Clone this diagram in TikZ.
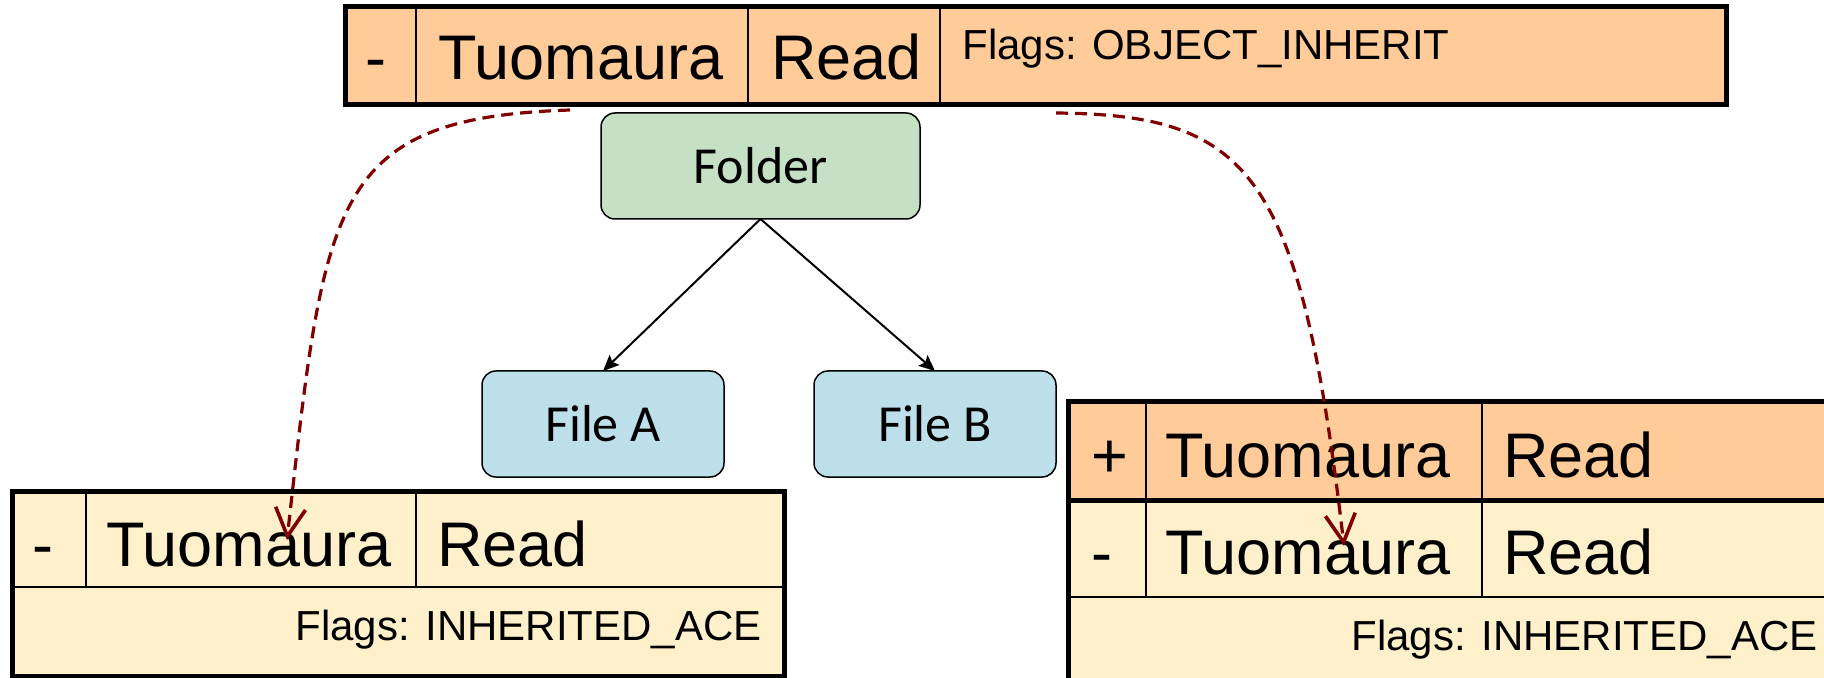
\documentclass[tikz,border=0pt]{standalone}
\usepackage{fontspec}
\setmainfont{Liberation Sans}
\newfontfamily\carlito{Carlito}
\usetikzlibrary{arrows.meta}
\definecolor{aceorange}{HTML}{FFCC99}
\definecolor{aceyellow}{HTML}{FFF0CC}
\definecolor{foldergreen}{HTML}{C5E0C5}
\definecolor{fileblue}{HTML}{BDDFEA}
\definecolor{inhred}{HTML}{800000}
\tikzset{
 cell/.style={draw=black, line width=1pt, inner sep=0pt, outer sep=0pt, anchor=north west},
 big/.style={font=\fontsize{31.5}{31.5}\selectfont, inner sep=0pt, anchor=base west},
 flag/.style={font=\fontsize{21}{21}\selectfont, inner sep=0pt},
 outerline/.style={line width=2.5pt},
 obj/.style={draw=black, line width=0.75pt, rounded corners=7pt, inner sep=0pt, outer sep=0pt,
   font=\carlito\fontsize{26}{26}\selectfont},
 tree/.style={line width=1pt, -{Stealth[length=8pt,width=7pt,inset=1.5pt]}},
 inh/.style={draw=inhred, line width=1.6pt, dash pattern=on 6pt off 3.5pt,
   -{Straight Barb[length=14pt,width=15pt,line width=1.8pt]}}
}
\begin{document}
\begin{tikzpicture}[x=0.5pt,y=-0.5pt]
\useasboundingbox (0,0) rectangle (1824,678);
\clip (0,0) rectangle (1824,678);
% top table
\node[cell, fill=aceorange, minimum width=35.5pt, minimum height=49pt] (t1) at (345,7) {};
\node[cell, fill=aceorange, minimum width=166pt, minimum height=49pt] (t2) at (416,7) {};
\node[cell, fill=aceorange, minimum width=96pt, minimum height=49pt] (t3) at (748,7) {};
\node[cell, fill=aceorange, minimum width=393pt, minimum height=49pt] (t4) at (940,7) {};
\draw[outerline] (t1.north west) rectangle (t4.south east);
\node[big] (t1x) at (365,80) {-};
\node[big] (t2x) at (438,80) {Tuomaura};
\node[big] (t3x) at (771,80) {Read};
\node[flag, anchor=base west] (t4x) at (962,60) {Flags: OBJECT\_INHERIT};
% left table
\node[cell, fill=aceyellow, minimum width=37pt, minimum height=48pt] (l1) at (12,491) {};
\node[cell, fill=aceyellow, minimum width=165pt, minimum height=48pt] (l2) at (86,491) {};
\node[cell, fill=aceyellow, minimum width=184pt, minimum height=48pt] (l3) at (416,491) {};
\node[cell, fill=aceyellow, minimum width=386pt, minimum height=44.5pt] (l4) at (12,587) {};
\draw[outerline] (l1.north west) rectangle (l4.south east);
\node[big] (l1x) at (32,566) {-};
\node[big] (l2x) at (106,566) {Tuomaura};
\node[big] (l3x) at (437,566) {Read};
\node[flag, anchor=base east] (l4x) at (762,640) {Flags: INHERITED\_ACE};
% right table
\node[cell, fill=aceorange, minimum width=39pt, minimum height=49.5pt] (r1) at (1068,401) {};
\node[cell, fill=aceorange, minimum width=168pt, minimum height=49.5pt] (r2) at (1146,401) {};
\node[cell, fill=aceorange, minimum width=190pt, minimum height=49.5pt] (r3) at (1482,401) {};
\node[cell, fill=aceyellow, minimum width=39pt, minimum height=48.5pt] (r4) at (1068,500) {};
\node[cell, fill=aceyellow, minimum width=168pt, minimum height=48.5pt] (r5) at (1146,500) {};
\node[cell, fill=aceyellow, minimum width=190pt, minimum height=48.5pt] (r6) at (1482,500) {};
\node[cell, fill=aceyellow, minimum width=397pt, minimum height=55pt] (r7) at (1068,597) {};
\draw[outerline] (r1.north west) rectangle (r7.south east);
\draw[outerline] (r1.south west) -- (r3.south east);
\node[big] (r1x) at (1091,477) {+};
\node[big] (r2x) at (1165,477) {Tuomaura};
\node[big] (r3x) at (1503,477) {Read};
\node[big] (r4x) at (1091,574) {-};
\node[big] (r5x) at (1165,574) {Tuomaura};
\node[big] (r6x) at (1503,574) {Read};
\node[flag, anchor=base east] (r7x) at (1818,650) {Flags: INHERITED\_ACE};
% tree
\node[obj, fill=foldergreen, minimum width=159.5pt, minimum height=53pt] (folder) at (760.5,166) {Folder};
\node[obj, fill=fileblue, minimum width=121pt, minimum height=53pt] (fileA) at (603,424) {File A};
\node[obj, fill=fileblue, minimum width=121pt, minimum height=53pt] (fileB) at (935,424) {File B};
\draw[tree] (folder.south) -- (fileA.north);
\draw[tree] (folder.south) -- (fileB.north);
% inheritance arrows
\coordinate (s1) at (570,110);
\coordinate (e1) at (287,540);
\coordinate (s2) at (1056,113);
\coordinate (e2) at (1344,546);
\draw[inh] (s1) .. controls (330,118) and (325,200) .. (e1);
\draw[inh] (s2) .. controls (1250,115) and (1300,170) .. (e2);
\end{tikzpicture}
\end{document}
